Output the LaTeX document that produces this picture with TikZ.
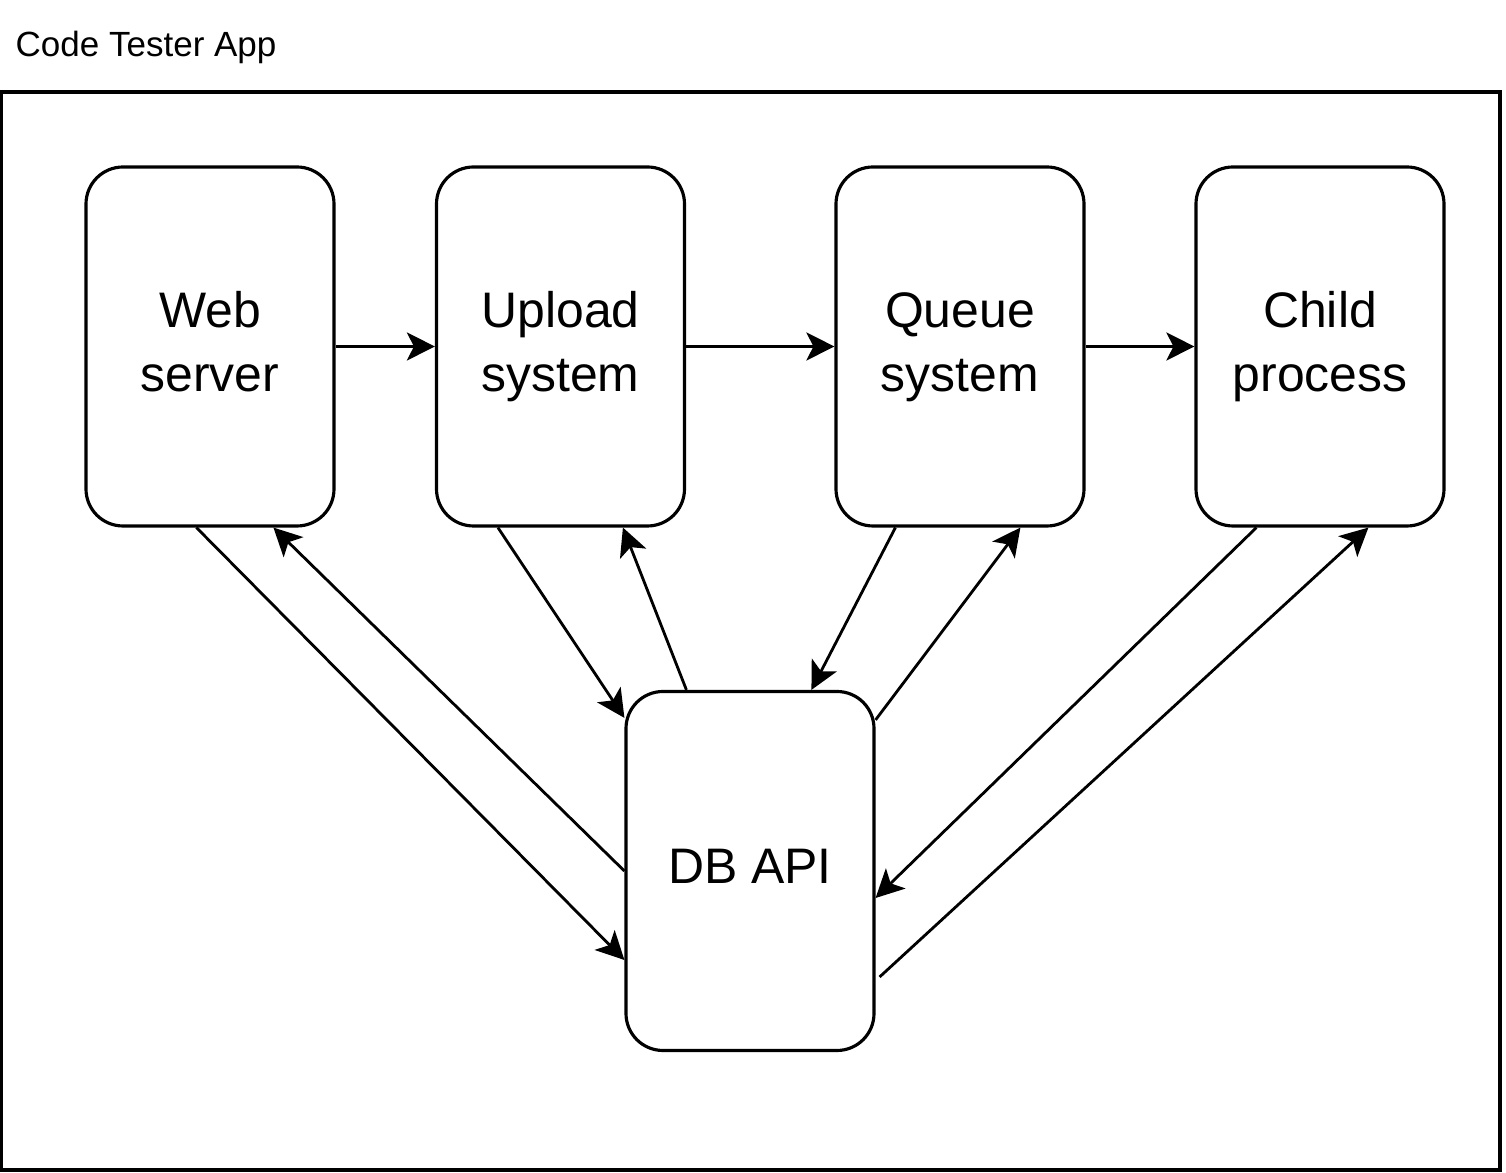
\documentclass[tikz,border=0pt]{standalone}
\usepackage{fontspec}
\setmainfont{Liberation Sans}
\usetikzlibrary{arrows.meta}
\tikzset{
	block/.style={draw, line width=0.9pt, rounded corners=0.37cm, minimum width=2.48cm, minimum height=3.59cm, align=center, inner sep=0pt, font=\fontsize{14.2}{18.2}\selectfont},
	flow/.style={-{Stealth[length=0.28cm, width=0.28cm, inset=0.07cm]}, line width=0.8pt},
}
\begin{document}
\begin{tikzpicture}
	\useasboundingbox (0,0) rectangle (15.06,-11.73);
	\node[anchor=base west, inner sep=0pt, font=\fontsize{9.96}{12}\selectfont] at (0.15,-0.57)(title){Code Tester App};
	\draw[line width=0.9pt] (0.01,-0.92) rectangle (15.00,-11.70);
	\node[block] at (2.10,-3.465)(web){Web\strut\\server\strut};
	\node[block] at (5.605,-3.465)(upload){Upload\strut\\system\strut};
	\node[block] at (9.60,-3.465)(queue){Queue\strut\\system\strut};
	\node[block] at (13.20,-3.465)(child){Child\strut\\process\strut};
	\node[block] at (7.50,-8.71)(db){DB API\strut};
	\path[flow] (web) edge (upload)
	(upload) edge (queue)
	(queue) edge (child);
	
	\path[flow]
		([xshift=1.12cm]web.south west) edge ([yshift=-0.89cm]db.west)
		(db.west) edge ([xshift=1.89cm]web.south west)
		([xshift=0.63cm]upload.south west) edge ([yshift=-0.28cm]db.north west)
		([xshift=0.62cm]db.north west) edge ([xshift=1.88cm]upload.south west)
		([xshift=0.61cm]queue.south west) edge ([xshift=1.87cm]db.north west)
		([yshift=-0.30cm]db.north east) edge ([xshift=1.86cm]queue.south west)
		([xshift=0.62cm]child.south west) edge ([yshift=-0.27cm]db.east)
		([xshift=0.04cm, yshift=-1.06cm]db.east) edge ([xshift=1.74cm]child.south west);
\end{tikzpicture}
\end{document}
